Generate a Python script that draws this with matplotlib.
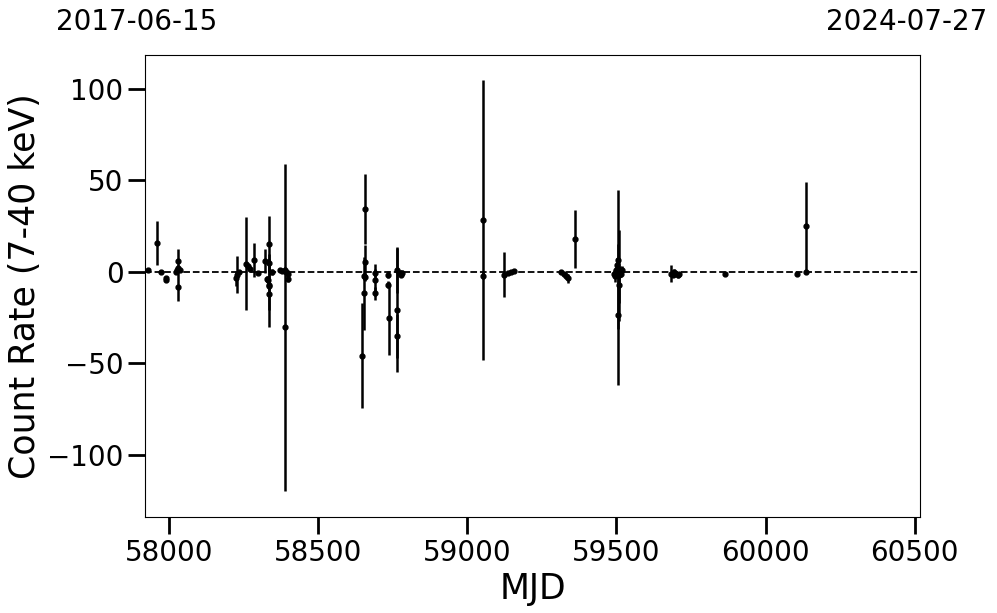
import numpy as np
import matplotlib
matplotlib.use("Agg")
import matplotlib.pyplot as plt

# light curve values (MJD, rate, 1-sigma error)
mjd = [57930, 57958, 57973, 57989, 57990, 58029, 58029, 58026, 58035, 58023, 58031,
       58225, 58228, 58233, 58258, 58263, 58270, 58285, 58299, 58321, 58334, 58334,
       58328, 58330, 58334, 58335, 58336, 58345, 58373, 58380, 58387, 58393, 58399,
       58397, 58389,
       58648, 58652, 58656, 58656, 58655, 58658, 58691, 58691, 58691, 58733, 58733,
       58736, 58763, 58764, 58763, 58773, 58778, 58782,
       59052, 59052, 59123, 59137, 59148, 59157,
       59315, 59323, 59330, 59338, 59361,
       59492, 59495, 59499, 59502, 59504, 59505, 59507, 59509, 59512, 59514, 59517,
       59683, 59688, 59693, 59698, 59705, 59711, 59863, 60105, 60135, 60135]
rate = [1, 15.7, 0, -3.5, -4.5, 6, -8.4, 1, 1, 0, 2,
        -3.5, -1.6, 0, 4.4, 3, 1.6, 6.5, -0.4, 6, 15.3, 4.7,
        -4, -4.5, -7, -12, -7.5, 0, 1, 0.5, 1, 0, -1,
        -3.8, -30.4,
        -46, -11.7, 34.3, 5.6, -2.5, -3, -0.7, -4.4, -11.7, -1.6, -7.1,
        -25.3, 1, -20.8, -35.3, -0.7, -1.6, -0.7,
        28.4, -2.2, -1.6, -0.7, -0.2, 0.4,
        0, -1, -2.2, -3.5, 17.9,
        -1, -2.5, 1, 3.8, 6.6, -23.5, -7.1, -2, 0, -1, 1,
        -1, -1.6, 0, -1, -2, -1, -1, -1.3, 25, 0]
err = [1, 12, 0.5, 1, 1, 6.5, 7.5, 1, 1, 1, 1.5,
       4, 10, 1, 25.5, 1.5, 1.5, 9.5, 1, 6.5, 15, 5,
       1.5, 2, 14, 18, 2, 1.5, 1, 1, 1.5, 1.5, 2,
       2, 89.5,
       28.7, 20, 19, 9, 2, 2, 2, 8.8, 3.5, 2, 2,
       20, 12.5, 34, 12, 1.5, 1.5, 1.5,
       76.7, 2, 12.3, 1, 1, 1,
       1, 1, 1.5, 2.5, 16,
       2, 3, 3, 4, 38, 38.5, 10, 25, 3, 2, 2,
       4.5, 1.5, 1.5, 1.5, 1.5, 1, 1, 1, 24, 1]

start_date = "2017-06-15"
end_date = "2024-07-27"
mjd_start = 57919
mjd_end = 60518

fig = plt.figure(figsize=(9.97, 6.13), dpi=100)
ax = fig.add_axes([0.1454, 0.1566, 0.7774, 0.7537])

ax.errorbar(mjd, rate, yerr=err, fmt='o', color='black', ms=3.5,
            elinewidth=1.8, capsize=0)
ax.axhline(0, color='black', ls='--', lw=1.3)

ax.set_xlim(mjd_start, mjd_end)
ax.set_ylim(-134, 118.5)
ax.set_xticks(np.arange(58000, 60501, 500))
ax.set_yticks([-100, -50, 0, 50, 100])
ax.tick_params(axis='both', which='major', labelsize=20, length=12, width=2)
ax.set_xlabel("MJD", fontsize=25)
ax.set_ylabel("Count Rate (7-40 keV)", fontsize=25)

fig.text(137 / 997, 1 - 22 / 613, start_date, fontsize=20, ha='center', va='center')
fig.text(907 / 997, 1 - 22 / 613, end_date, fontsize=20, ha='center', va='center')

fig.savefig("out.png", dpi=100)
